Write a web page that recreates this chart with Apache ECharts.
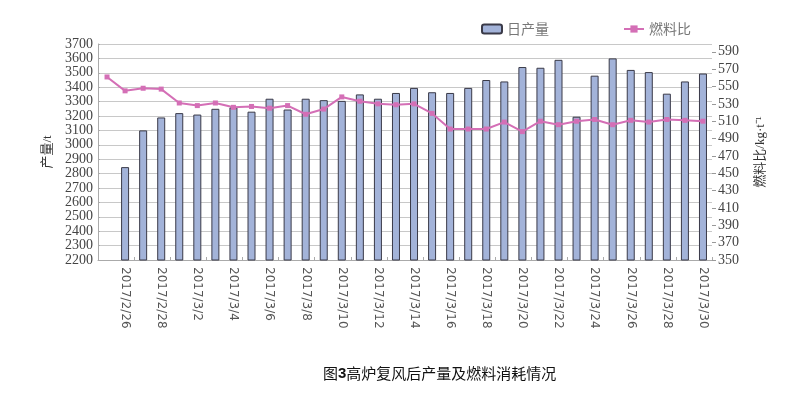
<!DOCTYPE html>
<html><head><meta charset="utf-8">
<script src="https://cdn.jsdelivr.net/npm/echarts@6/dist/echarts.min.js"></script>
<style>html,body{margin:0;padding:0;background:#fff}#c{width:795px;height:394px}</style>
</head><body><div id="c"></div>
<script>
const categories = ['2017/2/25','2017/2/26','2017/2/27','2017/2/28','2017/3/1','2017/3/2','2017/3/3','2017/3/4','2017/3/5','2017/3/6','2017/3/7','2017/3/8','2017/3/9','2017/3/10','2017/3/11','2017/3/12','2017/3/13','2017/3/14','2017/3/15','2017/3/16','2017/3/17','2017/3/18','2017/3/19','2017/3/20','2017/3/21','2017/3/22','2017/3/23','2017/3/24','2017/3/25','2017/3/26','2017/3/27','2017/3/28','2017/3/29','2017/3/30'];
const output = [null,2845,3100,3190,3220,3210,3250,3260,3230,3320,3245,3320,3310,3305,3350,3320,3360,3395,3365,3360,3395,3450,3440,3540,3535,3590,3195,3480,3600,3520,3505,3355,3440,3495];
const fuelRatio = [561,545,548,547,531,528,531,526,527,525,528,518,524,538,533,530,529,530,519,501,501,501,509,498,510,506,510,512,506,511,509,512,511,510];
const leftTicks = {min:2200, max:3700, interval:100};
const rightTicks = {min:350, max:599, interval:20};

const chart = echarts.init(document.getElementById('c'));
const serif = '"Liberation Serif","DejaVu Serif",serif';
const nameFont = '"Liberation Serif","Noto Sans CJK SC",serif';
chart.setOption({
  animation:false,
  legend:{
    top:17, left:476, itemGap:74, itemWidth:20, itemHeight:9,
    textStyle:{color:'#777', fontSize:14, fontFamily:'"Noto Sans CJK SC",sans-serif'},
    data:['日产量','燃料比']
  },
  title:{
    text:'图{b|3}高炉复风后产量及燃料消耗情况', left:318, top:361,
    textStyle:{fontSize:15, fontWeight:'normal', color:'#111', fontFamily:'"Noto Sans CJK SC",sans-serif',
      rich:{b:{fontSize:15, fontWeight:'bold', color:'#111', fontFamily:'"Liberation Sans",sans-serif'}}}
  },
  grid:{left:98, right:83, top:44, bottom:134},
  xAxis:{
    type:'category', data:categories, boundaryGap:true,
    axisLine:{lineStyle:{color:'#aaa'}},
    axisTick:{show:true, inside:true, length:3, interval:1, lineStyle:{color:'#aaa'}},
    axisLabel:{rotate:-90, interval:(i)=>i%2===1, color:'#555', fontSize:12, margin:7,
      fontFamily:'"DejaVu Sans",sans-serif'}
  },
  yAxis:[{
    type:'value', min:leftTicks.min, max:leftTicks.max, interval:leftTicks.interval,
    name:'产量/t', nameLocation:'middle', nameGap:40, nameRotate:90,
    nameTextStyle:{color:'#333', fontSize:13, fontFamily:nameFont},
    axisLine:{show:true, lineStyle:{color:'#aaa'}},
    axisTick:{show:true, inside:true, length:2, lineStyle:{color:'#aaa'}},
    axisLabel:{color:'#444', fontSize:14, margin:5, fontFamily:serif, formatter:(v)=>String(v)},
    splitLine:{lineStyle:{color:'#c8c8c8'}}
  },{
    type:'value', min:rightTicks.min, max:rightTicks.max, interval:rightTicks.interval,
    name:'燃料比/kg·t⁻¹', nameLocation:'middle', nameGap:42, nameRotate:90,
    nameTextStyle:{color:'#333', fontSize:13, fontFamily:nameFont},
    axisLine:{show:false},
    axisTick:{show:true, length:4, lineStyle:{color:'#999'}},
    axisLabel:{color:'#444', fontSize:14, margin:6, fontFamily:serif,
      showMaxLabel:false},
    splitLine:{show:false}
  }],
  series:[{
    name:'日产量', type:'bar', data:output, barWidth:8, yAxisIndex:0,
    itemStyle:{color:'#a3b3d9', borderColor:'#3a3a48', borderWidth:1}
  },{
    name:'燃料比', type:'line', data:fuelRatio, yAxisIndex:1,
    symbol:'rect', symbolSize:5, showAllSymbol:true,
    lineStyle:{color:'#d46fb6', width:2},
    itemStyle:{color:'#d46fb6'}
  }]
});
</script></body></html>
